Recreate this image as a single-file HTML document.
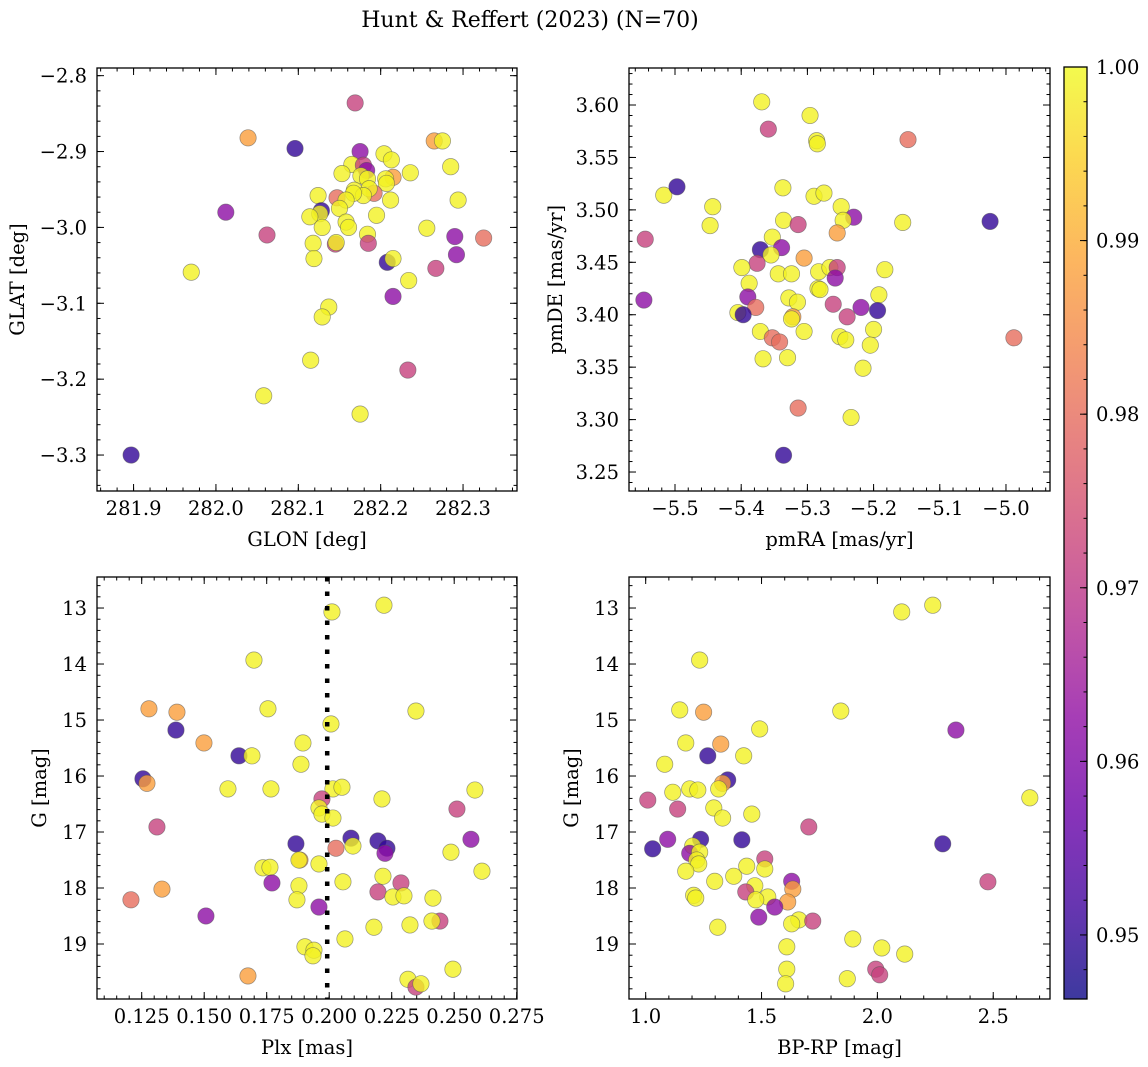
<!DOCTYPE html>
<html><head><meta charset="utf-8">
<style>
html,body{margin:0;padding:0;background:#fff;}
svg{display:block;font-family:"DejaVu Serif","Liberation Serif",serif;}
</style></head>
<body>
<svg id="fig" width="1148" height="1067" viewBox="0 0 1148 1067" xmlns="http://www.w3.org/2000/svg">
<text x="530" y="27" font-size="22" text-anchor="middle">Hunt &amp; Reffert (2023) (N=70)</text>
</svg>
<script>
// ---------- Panel 1: GLON vs GLAT ----------
const glon = [282.169,282.039,282.096,282.012,282.062,281.970,281.897,282.058,282.115,282.175,282.233,282.215,282.208,282.215,282.234,282.325,282.290,282.292,282.267,282.256,282.294,282.285,282.265,282.275,282.175,282.204,282.213,282.236,282.215,282.206,282.207,282.165,282.179,282.183,282.153,282.176,282.184,282.192,282.186,282.168,282.179,282.167,282.147,282.158,282.212,282.124,282.128,282.126,282.150,282.114,282.195,282.129,282.158,282.161,282.184,282.185,282.118,282.145,282.146,282.119,282.137,282.129];
const glat = [-2.836,-2.882,-2.896,-2.980,-3.010,-3.059,-3.300,-3.222,-3.175,-3.246,-3.188,-3.091,-3.046,-3.041,-3.070,-3.014,-3.012,-3.036,-3.054,-3.001,-2.964,-2.920,-2.886,-2.886,-2.900,-2.903,-2.911,-2.928,-2.934,-2.936,-2.942,-2.917,-2.918,-2.925,-2.929,-2.932,-2.936,-2.955,-2.949,-2.951,-2.958,-2.955,-2.961,-2.964,-2.964,-2.958,-2.978,-2.982,-2.975,-2.986,-2.984,-3.000,-2.993,-3.000,-3.009,-3.021,-3.021,-3.022,-3.020,-3.041,-3.105,-3.118];
const prob1 = [0.972,0.988,0.950,0.962,0.972,0.999,0.950,0.999,0.999,0.999,0.972,0.962,0.950,0.999,0.999,0.980,0.962,0.962,0.972,0.999,0.999,0.999,0.988,0.999,0.962,0.999,0.999,0.999,0.988,0.999,0.999,0.999,0.972,0.962,0.999,0.999,0.999,0.980,0.999,0.999,0.999,0.999,0.980,0.999,0.999,0.999,0.950,0.999,0.999,0.999,0.999,0.999,0.999,0.999,0.999,0.972,0.999,0.972,0.999,0.999,0.999,0.999];

// ---------- Panel 2: pmRA vs pmDE ----------
const pmra = [-5.369,-5.296,-5.359,-5.148,-5.286,-5.285,-5.517,-5.497,-5.443,-5.447,-5.545,-5.547,-5.156,-5.024,-4.988,-5.183,-5.192,-5.194,-5.200,-5.205,-5.216,-5.234,-5.314,-5.336,-5.337,-5.290,-5.275,-5.249,-5.230,-5.246,-5.255,-5.336,-5.314,-5.353,-5.371,-5.339,-5.355,-5.376,-5.305,-5.399,-5.344,-5.324,-5.283,-5.266,-5.255,-5.258,-5.388,-5.390,-5.284,-5.281,-5.328,-5.315,-5.378,-5.261,-5.219,-5.405,-5.397,-5.322,-5.324,-5.240,-5.371,-5.305,-5.251,-5.242,-5.353,-5.342,-5.367,-5.330];
const pmde = [3.603,3.590,3.577,3.567,3.566,3.563,3.514,3.522,3.503,3.485,3.472,3.414,3.488,3.489,3.378,3.443,3.419,3.404,3.386,3.371,3.349,3.302,3.311,3.266,3.521,3.513,3.516,3.503,3.493,3.490,3.478,3.490,3.486,3.474,3.462,3.464,3.457,3.449,3.454,3.445,3.439,3.439,3.441,3.445,3.445,3.435,3.430,3.417,3.425,3.424,3.416,3.412,3.407,3.410,3.407,3.402,3.400,3.398,3.396,3.398,3.384,3.384,3.379,3.376,3.378,3.374,3.358,3.359];
const prob2 = [0.999,0.999,0.972,0.980,0.999,0.999,0.999,0.950,0.999,0.999,0.972,0.962,0.999,0.950,0.980,0.999,0.999,0.950,0.999,0.999,0.999,0.999,0.980,0.950,0.999,0.999,0.999,0.999,0.962,0.999,0.988,0.999,0.972,0.999,0.950,0.962,0.999,0.972,0.988,0.999,0.999,0.999,0.999,0.999,0.972,0.962,0.999,0.962,0.999,0.999,0.999,0.999,0.980,0.972,0.962,0.999,0.950,0.988,0.999,0.972,0.999,0.999,0.999,0.999,0.980,0.980,0.999,0.999];

// ---------- Panel 3: Plx vs G ----------
const plx = [0.2007,0.1895,0.1639,0.1691,0.1887,0.1595,0.1767,0.2015,0.2051,0.2211,0.2583,0.1971,0.1959,0.1971,0.2015,0.2511,0.2087,0.2095,0.2195,0.2231,0.2223,0.1867,0.2027,0.2567,0.2487,0.1883,0.1879,0.1959,0.1735,0.1763,0.2611,0.2215,0.1771,0.2055,0.2287,0.2195,0.2255,0.2299,0.2415,0.1879,0.1871,0.1959,0.2443,0.2411,0.2323,0.2179,0.2063,0.1903,0.1939,0.1935,0.2495,0.1675,0.2315,0.2347,0.2367,0.2219,0.2011,0.1699,0.1279,0.1391,0.1755,0.2347,0.1387,0.1499,0.1255,0.1271,0.1311,0.1331,0.1207,0.1507];
const gmag3 = [15.07,15.41,15.64,15.64,15.79,16.23,16.23,16.23,16.20,16.41,16.25,16.41,16.57,16.68,16.75,16.59,17.11,17.25,17.16,17.29,17.38,17.21,17.29,17.13,17.36,17.50,17.50,17.57,17.64,17.63,17.70,17.79,17.91,17.89,17.91,18.07,18.16,18.14,18.18,17.96,18.21,18.34,18.59,18.59,18.66,18.70,18.91,19.05,19.11,19.21,19.45,19.57,19.63,19.77,19.71,12.95,13.07,13.93,14.80,14.86,14.80,14.84,15.18,15.41,16.05,16.13,16.91,18.02,18.21,18.50];
const prob3 = [0.999,0.999,0.950,0.999,0.999,0.999,0.999,0.999,0.999,0.999,0.999,0.972,0.999,0.999,0.999,0.972,0.950,0.999,0.950,0.950,0.962,0.950,0.980,0.962,0.999,0.988,0.999,0.999,0.999,0.999,0.999,0.999,0.962,0.999,0.972,0.972,0.999,0.999,0.999,0.999,0.999,0.962,0.972,0.999,0.999,0.999,0.999,0.999,0.999,0.999,0.999,0.988,0.999,0.972,0.999,0.999,0.999,0.999,0.988,0.988,0.999,0.999,0.950,0.988,0.950,0.988,0.972,0.988,0.980,0.962];
const plxCut = 0.2;

// ---------- Panel 4: BP-RP vs G ----------
const bprp = [1.173,1.324,1.268,1.423,1.082,1.354,1.332,1.315,1.117,1.190,1.225,1.009,1.138,1.294,1.332,1.458,1.704,1.095,1.030,1.237,1.415,1.203,1.190,1.233,1.220,1.229,1.514,1.436,1.514,1.173,1.380,1.298,1.630,1.635,1.471,1.432,1.527,1.475,1.207,1.216,1.613,1.557,1.488,1.661,1.630,1.721,1.311,1.609,1.609,1.604,2.239,2.105,1.233,1.147,1.250,1.842,1.492,2.339,2.658,2.282,2.477,1.894,2.019,2.118,1.993,2.010,1.870];
const gmag4 = [15.41,15.43,15.64,15.64,15.79,16.07,16.13,16.23,16.29,16.23,16.25,16.43,16.59,16.57,16.75,16.68,16.91,17.13,17.30,17.13,17.14,17.25,17.38,17.36,17.50,17.57,17.48,17.61,17.66,17.70,17.79,17.88,17.88,18.02,17.96,18.07,18.16,18.21,18.13,18.18,18.25,18.34,18.52,18.57,18.64,18.59,18.70,19.05,19.45,19.71,12.95,13.07,13.93,14.82,14.86,14.84,15.16,15.18,16.39,17.21,17.89,18.91,19.07,19.18,19.45,19.55,19.62];
const prob4 = [0.999,0.988,0.950,0.999,0.999,0.950,0.988,0.999,0.999,0.999,0.999,0.972,0.972,0.999,0.999,0.999,0.972,0.962,0.950,0.950,0.950,0.999,0.962,0.999,0.999,0.999,0.972,0.999,0.999,0.999,0.999,0.999,0.962,0.988,0.999,0.972,0.999,0.999,0.999,0.999,0.988,0.962,0.962,0.999,0.999,0.972,0.999,0.999,0.999,0.999,0.999,0.999,0.999,0.999,0.988,0.999,0.999,0.962,0.999,0.950,0.972,0.999,0.999,0.999,0.972,0.972,0.999];

// ---------- Colorbar ----------
const cbTicks = [0.95,0.96,0.97,0.98,0.99,1.00];
const cbMin = 0.94631, cbMax = 1.0;

const FS = 19.5;
const NS = "http://www.w3.org/2000/svg";
const svg = document.getElementById('fig');
function el(tag, attrs, parent){
  const e = document.createElementNS(NS, tag);
  for (const k in attrs) e.setAttribute(k, attrs[k]);
  (parent||svg).appendChild(e);
  return e;
}
const plasmaStops = ["#0d0887","#41049d","#6a00a8","#8f0da4","#b12a90","#cc4778","#e16462","#f2844b","#fca636","#fcce25","#f0f921"];
function hex2rgb(h){return [parseInt(h.substr(1,2),16),parseInt(h.substr(3,2),16),parseInt(h.substr(5,2),16)];}
function plasma(t){
  t=Math.max(0,Math.min(1,t));
  const f=t*10, i=Math.min(9,Math.floor(f)), u=f-i;
  const a=hex2rgb(plasmaStops[i]), b=hex2rgb(plasmaStops[i+1]);
  return 'rgb('+a.map((v,k)=>Math.round(v+(b[k]-v)*u)).join(',')+')';
}
function pColor(p){return plasma((p-cbMin)/(cbMax-cbMin));}
function fmt(v,d){return (v<0?'\u2212':'')+Math.abs(v).toFixed(d);}

function panel(o){
  const g = el('g',{});
  
  
  const sx = v => o.L + (v-o.x0)/(o.x1-o.x0)*o.W;
  const sy = o.invert ? (v => o.T + (v-o.y1)/(o.y0-o.y1)*o.H) : (v => o.T + (o.y1-v)/(o.y1-o.y0)*o.H);
  const pts = el('g',{},g);
  
  
  const n = Math.min(o.xs.length, o.ys.length, o.ps.length);
  for (let i=0;i<n;i++){
    const c = el('circle',{cx:sx(o.xs[i]),cy:sy(o.ys[i]),r:8.2,fill:pColor(o.ps[i]),'fill-opacity':0.8,stroke:'#555','stroke-opacity':0.6,'stroke-width':0.7},pts);
    
    
  }
  if (o.extra) o.extra(g, sx, sy);
  const fr = el('rect',{x:o.L,y:o.T,width:o.W,height:o.H,fill:'none',stroke:'#000','stroke-width':1.3},g);
  
  
  const tk = el('g',{stroke:'#000','stroke-width':1},g);
  
  
  const eps=1e-9;
  function ticks(a0,a1,step){const r=[];let s=Math.ceil((a0-eps)/step);for(let v=s*step; v<=a1+eps; v=(++s)*step) r.push(v);return r;}
  const xmin=Math.min(o.x0,o.x1), xmax=Math.max(o.x0,o.x1), ymin=Math.min(o.y0,o.y1), ymax=Math.max(o.y0,o.y1);
  ticks(xmin,xmax,o.xminor).forEach(v=>{const x=sx(v);el('line',{x1:x,y1:o.T+o.H,x2:x,y2:o.T+o.H-3.5},tk);el('line',{x1:x,y1:o.T,x2:x,y2:o.T+3.5},tk);});
  ticks(ymin,ymax,o.yminor).forEach(v=>{const y=sy(v);el('line',{x1:o.L,y1:y,x2:o.L+3.5,y2:y},tk);el('line',{x1:o.L+o.W,y1:y,x2:o.L+o.W-3.5,y2:y},tk);});
  o.xticks.forEach(v=>{const x=sx(v);el('line',{x1:x,y1:o.T+o.H,x2:x,y2:o.T+o.H-7},tk);el('line',{x1:x,y1:o.T,x2:x,y2:o.T+7},tk);
    const t=el('text',{x:x,y:o.T+o.H+24,'font-size':FS,'text-anchor':'middle'},g);t.textContent=fmt(v,o.xd);
    });
  o.yticks.forEach(v=>{const y=sy(v);el('line',{x1:o.L,y1:y,x2:o.L+7,y2:y},tk);el('line',{x1:o.L+o.W,y1:y,x2:o.L+o.W-7,y2:y},tk);
    const t=el('text',{x:o.L-10,y:y+7,'font-size':FS,'text-anchor':'end'},g);t.textContent=fmt(v,o.yd);
    });
  const xl=el('text',{x:o.L+o.W/2,y:o.T+o.H+55,'font-size':FS,'text-anchor':'middle'},g);xl.textContent=o.xlabel;
  
  const yl=el('text',{x:o.ylx,y:o.T+o.H/2,'font-size':FS,'text-anchor':'middle',transform:'rotate(-90 '+o.ylx+' '+(o.T+o.H/2)+')'},g);yl.textContent=o.ylabel;
  
}

panel({name:'glon-glat-panel',L:97,T:68,W:420,H:423,x0:281.8556,x1:282.3655,y0:-3.3474,y1:-2.7899,
  xs:glon,ys:glat,ps:prob1,xticks:[281.9,282.0,282.1,282.2,282.3],xd:1,xminor:0.02,
  yticks:[-2.8,-2.9,-3.0,-3.1,-3.2,-3.3],yd:1,yminor:0.02,xlabel:'GLON [deg]',ylabel:'GLAT [deg]',ylx:24});
panel({name:'pmra-pmde-panel',L:629,T:68,W:421,H:423,x0:-5.5695,x1:-4.9335,y0:3.2319,y1:3.6353,
  xs:pmra,ys:pmde,ps:prob2,xticks:[-5.5,-5.4,-5.3,-5.2,-5.1,-5.0],xd:1,xminor:0.02,
  yticks:[3.25,3.30,3.35,3.40,3.45,3.50,3.55,3.60],yd:2,yminor:0.01,xlabel:'pmRA [mas/yr]',ylabel:'pmDE [mas/yr]',ylx:562});
panel({name:'plx-g-panel',L:97,T:577,W:420,H:422,x0:0.10712,x1:0.27512,y0:19.982,y1:12.446,invert:true,
  xs:plx,ys:gmag3,ps:prob3,xticks:[0.125,0.150,0.175,0.200,0.225,0.250,0.275],xd:3,xminor:0.005,
  yticks:[13,14,15,16,17,18,19],yd:0,yminor:0.2,xlabel:'Plx [mas]',ylabel:'G [mag]',ylx:46,
  extra:(g,sx,sy)=>{const ln=el('line',{x1:sx(plxCut)-2,y1:577,x2:sx(plxCut)-2,y2:999,stroke:'#000','stroke-width':4.5,'stroke-dasharray':'4.5 10'},g);
    }});
panel({name:'bprp-g-panel',L:629,T:577,W:421,H:422,x0:0.928,x1:2.745,y0:19.982,y1:12.446,invert:true,
  xs:bprp,ys:gmag4,ps:prob4,xticks:[1.0,1.5,2.0,2.5],xd:1,xminor:0.1,
  yticks:[13,14,15,16,17,18,19],yd:0,yminor:0.2,xlabel:'BP-RP [mag]',ylabel:'G [mag]',ylx:578});

(function(){
  const L=1064,T=67,W=23,H=932;
  const cg=el('g',{});
  
  
  const defs=el('defs',{},cg);
  const lg=el('linearGradient',{id:'cbgrad',x1:0,y1:1,x2:0,y2:0},defs);
  for(let i=0;i<=20;i++){el('stop',{offset:(i/20),'stop-color':plasma(i/20),'stop-opacity':0.8},lg);}
  const r=el('rect',{x:L,y:T,width:W,height:H,fill:'url(#cbgrad)',stroke:'#000','stroke-width':1.3},cg);
  
  const sy=v=>T+(cbMax-v)/(cbMax-cbMin)*H;
  for(let v=0.948; v<cbMax+1e-9; v+=0.002){const y=sy(v);el('line',{x1:L+W,y1:y,x2:L+W-3.5,y2:y,stroke:'#000','stroke-width':1},cg);}
  cbTicks.forEach(v=>{const y=sy(v);el('line',{x1:L+W,y1:y,x2:L+W-7,y2:y,stroke:'#000','stroke-width':1},cg);
    const t=el('text',{x:L+W+9,y:y+7,'font-size':FS},cg);t.textContent=v.toFixed(2);
    });
})();
</script>
</body></html>
